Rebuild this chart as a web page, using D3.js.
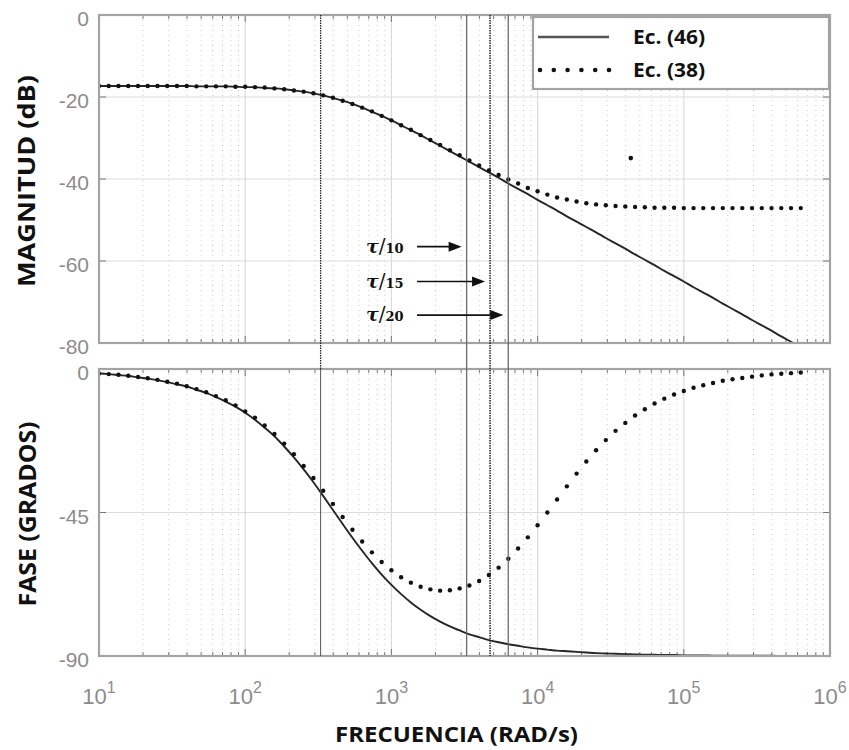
<!DOCTYPE html>
<html>
<head>
<meta charset="utf-8">
<script src="https://cdn.jsdelivr.net/npm/d3@7/dist/d3.min.js"></script>
<style>
  html, body { margin: 0; padding: 0; background: #ffffff; }
  svg { display: block; }
</style>
</head>
<body>
<div id="chart"></div>
<script>
// ---------------- DATA ----------------
const freq = [10, 11.66, 13.59, 15.85, 18.48, 21.54, 25.12, 29.29, 34.15, 39.81, 46.42, 54.12, 63.10, 73.56, 85.77,
  100, 116.6, 135.9, 158.5, 184.8, 215.4, 251.2, 292.9, 341.5, 398.1, 464.2, 541.2, 631.0, 735.6, 857.7,
  1000, 1166, 1359, 1585, 1848, 2154, 2512, 2929, 3415, 3981, 4642, 5412, 6310, 7356, 8577,
  10000, 11660, 13590, 15850, 18480, 21540, 25120, 29290, 34150, 39810, 46420, 54120, 63100, 73560, 85770,
  100000, 116600, 135900, 158500, 184800, 215400, 251200, 292900, 341500, 398100, 464200, 541200, 631000, 735600, 857700, 1000000];

// Ec. (46) magnitude (dB) - solid line
const magEc46 = [-17.3, -17.3, -17.3, -17.3, -17.3, -17.3, -17.3, -17.3, -17.3, -17.3, -17.4, -17.4, -17.4, -17.4, -17.5,
  -17.6, -17.6, -17.8, -17.9, -18.1, -18.4, -18.7, -19.1, -19.6, -20.2, -20.9, -21.7, -22.6, -23.6, -24.6,
  -25.7, -26.9, -28.1, -29.3, -30.6, -31.9, -33.2, -34.5, -35.8, -37.1, -38.4, -39.7, -41.1, -42.4, -43.7,
  -45.1, -46.4, -47.7, -49.1, -50.4, -51.7, -53.0, -54.4, -55.7, -57.0, -58.4, -59.7, -61.0, -62.4, -63.7,
  -65.0, -66.4, -67.7, -69.0, -70.4, -71.7, -73.0, -74.4, -75.7, -77.0, -78.4, -79.7, -81.0, -82.4, -83.7, -85.0];

// Ec. (38) magnitude (dB) - dotted markers (first 73 frequencies)
const magEc38 = [-17.3, -17.3, -17.3, -17.3, -17.3, -17.3, -17.3, -17.3, -17.3, -17.3, -17.4, -17.4, -17.4, -17.4, -17.5,
  -17.5, -17.6, -17.7, -17.9, -18.1, -18.4, -18.7, -19.1, -19.6, -20.2, -20.9, -21.7, -22.6, -23.5, -24.6,
  -25.7, -26.9, -28.0, -29.3, -30.5, -31.7, -33.0, -34.2, -35.5, -36.7, -37.9, -39.0, -40.1, -41.1, -42.2,
  -43.0, -43.8, -44.5, -45.0, -45.5, -45.9, -46.2, -46.4, -46.6, -46.7, -46.8, -46.9, -47.0, -47.0, -47.0,
  -47.1, -47.1, -47.1, -47.1, -47.1, -47.1, -47.1, -47.1, -47.1, -47.1, -47.1, -47.1, -47.1];

// isolated stray marker of Ec. (38) in the magnitude panel
const strayFreq = [43400];
const strayMag = [-34.9];

// Ec. (46) phase (degrees) - solid line
const phaseEc46 = [-1.4, -1.6, -1.9, -2.2, -2.6, -3.0, -3.5, -4.1, -4.8, -5.5, -6.5, -7.5, -8.8, -10.2, -11.8,
  -13.7, -15.9, -18.4, -21.1, -24.3, -27.7, -31.5, -35.5, -39.8, -44.2, -48.6, -52.9, -57.0, -60.9, -64.5,
  -67.7, -70.6, -73.2, -75.5, -77.5, -79.2, -80.7, -82.0, -83.2, -84.1, -85.0, -85.7, -86.3, -86.8, -87.3,
  -87.7, -88.0, -88.3, -88.5, -88.7, -88.9, -89.1, -89.2, -89.3, -89.4, -89.5, -89.6, -89.6, -89.7, -89.7,
  -89.8, -89.8, -89.8, -89.9, -89.9, -89.9, -89.9, -89.9, -89.9, -89.9, -90.0, -90.0, -90.0, -90.0, -90.0, -90.0];

// Ec. (38) phase (degrees) - dotted markers (first 73 frequencies)
const phaseEc38 = [-1.4, -1.6, -1.8, -2.1, -2.5, -2.9, -3.4, -4.0, -4.6, -5.4, -6.3, -7.3, -8.5, -9.8, -11.4,
  -13.3, -15.3, -17.7, -20.4, -23.4, -26.7, -30.4, -34.2, -38.2, -42.3, -46.4, -50.4, -54.1, -57.5, -60.5,
  -63.1, -65.3, -67.0, -68.3, -69.1, -69.5, -69.4, -68.8, -67.9, -66.5, -64.6, -62.3, -59.5, -56.3, -52.8,
  -49.0, -45.0, -40.9, -36.8, -32.8, -29.0, -25.5, -22.3, -19.4, -16.9, -14.6, -12.6, -10.8, -9.3, -8.0,
  -6.9, -5.9, -5.1, -4.4, -3.7, -3.2, -2.8, -2.4, -2.0, -1.7, -1.5, -1.3, -1.1];

// axis ticks
const decadeTicks = [10, 100, 1000, 10000, 100000, 1000000];
const decadeExp = ["1", "2", "3", "4", "5", "6"];
const magTicks = [0, -20, -40, -60, -80];
const phaseTicks = [0, -45, -90];

// vertical reference lines (rad/s) and tau annotations
const markerFreqs = [328, 3270, 4730, 6300];
const tauDivisors = ["10", "15", "20"];   // tau/10, tau/15, tau/20 point to markerFreqs[1..3]

const legendLabels = ["Ec. (46)", "Ec. (38)"];
const axisTitles = { mag: "MAGNITUD (dB)", phase: "FASE (GRADOS)", x: "FRECUENCIA (RAD/s)" };

// ---------------- CHART ----------------
const W = 849, H = 750;
const svg = d3.select("#chart").append("svg").attr("width", W).attr("height", H);
svg.append("rect").attr("width", W).attr("height", H).attr("fill", "#fff");

const x = d3.scaleLog().domain([10, 1e6]).range([99, 830]);
const yM = d3.scaleLinear().domain([0, -80]).range([15, 343]);
const yP = d3.scaleLinear().domain([0, -90]).range([369, 656]);

const minorFreqs = [];
for (let e = 1; e <= 5; e++) for (let m = 2; m <= 9; m++) minorFreqs.push(m * Math.pow(10, e));

const tickFont = "'Liberation Sans', Arial, sans-serif";
const titleFont = "'Open Sans', 'Noto Sans', sans-serif";

const panels = [
  { id: "mag", y: yM, ticks: magTicks, curve: magEc46, dots: magEc38 },
  { id: "phase", y: yP, ticks: phaseTicks, curve: phaseEc46, dots: phaseEc38 }
];

const [xl, xr] = x.range();

panels.forEach(p => {
  const [yt, yb] = p.y.range();
  const g = svg.append("g");
  g.append("rect").attr("x", xl).attr("y", yt).attr("width", xr - xl).attr("height", yb - yt).attr("fill", "#fff");

  // minor dotted grid
  g.selectAll(".mg").data(minorFreqs).enter().append("line")
    .attr("x1", d => x(d)).attr("x2", d => x(d)).attr("y1", yt).attr("y2", yb)
    .attr("stroke", "#cbcbcb").attr("stroke-width", 1).attr("stroke-dasharray", "1,4");

  // major grid
  g.selectAll(".vg").data(decadeTicks.slice(1, -1)).enter().append("line")
    .attr("x1", d => x(d)).attr("x2", d => x(d)).attr("y1", yt).attr("y2", yb)
    .attr("stroke", "#dcdcdc").attr("stroke-width", 1.2);
  g.selectAll(".hg").data(p.ticks.slice(1, -1)).enter().append("line")
    .attr("x1", xl).attr("x2", xr).attr("y1", d => p.y(d)).attr("y2", d => p.y(d))
    .attr("stroke", "#dcdcdc").attr("stroke-width", 1.2);

  // tick marks (inside) on top and bottom edges
  [yt, yb].forEach((edge, i) => {
    const dir = i === 0 ? 1 : -1;
    g.selectAll(".tmn" + i).data(minorFreqs).enter().append("line")
      .attr("x1", d => x(d)).attr("x2", d => x(d)).attr("y1", edge).attr("y2", edge + dir * 4)
      .attr("stroke", "#777").attr("stroke-width", 1);
    g.selectAll(".tmj" + i).data(decadeTicks).enter().append("line")
      .attr("x1", d => x(d)).attr("x2", d => x(d)).attr("y1", edge).attr("y2", edge + dir * 7)
      .attr("stroke", "#777").attr("stroke-width", 1);
  });
  [xl, xr].forEach((edge, i) => {
    const dir = i === 0 ? 1 : -1;
    g.selectAll(".ty" + i).data(p.ticks).enter().append("line")
      .attr("x1", edge).attr("x2", edge + dir * 7).attr("y1", d => p.y(d)).attr("y2", d => p.y(d))
      .attr("stroke", "#777").attr("stroke-width", 1);
  });

  // clip
  svg.append("clipPath").attr("id", "clip-" + p.id).append("rect")
    .attr("x", xl).attr("y", yt).attr("width", xr - xl).attr("height", yb - yt);
  const pg = svg.append("g").attr("clip-path", "url(#clip-" + p.id + ")");

  const line = d3.line().x(d => x(d[0])).y(d => p.y(d[1])).curve(d3.curveMonotoneX);
  pg.append("path").datum(freq.map((f, i) => [f, p.curve[i]]))
    .attr("d", line).attr("fill", "none").attr("stroke", "#262626").attr("stroke-width", 1.9);

  pg.selectAll(".dot").data(p.dots.map((v, i) => [freq[i], v])).enter().append("circle")
    .attr("cx", d => x(d[0])).attr("cy", d => p.y(d[1])).attr("r", 2.2).attr("fill", "#111");

  if (p.id === "mag") {
    pg.selectAll(".stray").data(strayFreq.map((f, i) => [f, strayMag[i]])).enter().append("circle")
      .attr("cx", d => x(d[0])).attr("cy", d => p.y(d[1])).attr("r", 2.3).attr("fill", "#111");
  }

  // frame
  svg.append("rect").attr("x", xl).attr("y", yt).attr("width", xr - xl).attr("height", yb - yt)
    .attr("fill", "none").attr("stroke", "#a3a3a3").attr("stroke-width", 2.2);

  // y tick labels
  svg.selectAll(".yl-" + p.id).data(p.ticks).enter().append("text")
    .attr("x", xl - 10).attr("y", d => p.y(d) + 11)
    .attr("text-anchor", "end").attr("font-family", tickFont).attr("font-size", 21)
    .attr("fill", "#8c8c8c").text(d => d === 0 ? "0" : "-" + Math.abs(d));
});

// x tick labels (10^n)
const xl_g = svg.selectAll(".xlab").data(decadeTicks).enter().append("text")
  .attr("x", d => x(d)).attr("y", 704).attr("text-anchor", "middle")
  .attr("font-family", tickFont).attr("font-size", 22).attr("fill", "#8c8c8c");
xl_g.append("tspan").text("10");
xl_g.append("tspan").attr("dy", -11).attr("font-size", 16).text((d, i) => decadeExp[i]);

// vertical reference lines
const yTop = yM.range()[0], yGap = yP.range()[0], yBot = yP.range()[1];
const markerStyles = [
  { segs: [[yTop, yGap, "#222", "1.5,1", 1.3], [yGap, yBot, "#555", null, 1]] },
  { segs: [[yTop, yBot, "#6a6a6a", null, 1.3]] },
  { segs: [[yTop, yBot, "#222", "1.5,1", 1.5]] },
  { segs: [[yTop, yBot, "#6a6a6a", null, 1.3]] }
];
markerFreqs.forEach((f, i) => {
  markerStyles[i].segs.forEach(s => {
    const l = svg.append("line").attr("x1", x(f)).attr("x2", x(f)).attr("y1", s[0]).attr("y2", s[1])
      .attr("stroke", s[2]).attr("stroke-width", s[4]);
    if (s[3]) l.attr("stroke-dasharray", s[3]);
  });
});

// tau annotations with arrows
const tauY = [yM(-56.5), yM(-65), yM(-73.2)];
tauDivisors.forEach((d, i) => {
  const cy = tauY[i];
  const t = svg.append("text").attr("x", 366).attr("y", cy + 6)
    .attr("font-family", "'DejaVu Serif', 'Liberation Serif', serif").attr("font-weight", "bold").attr("fill", "#111");
  t.append("tspan").attr("font-size", 19).attr("font-style", "italic").text("τ");
  t.append("tspan").attr("font-size", 20).attr("font-weight", "normal").text("/");
  t.append("tspan").attr("font-size", 13).text(d);
  const tip = x(markerFreqs[i + 1]) - 5;
  svg.append("line").attr("x1", 417).attr("x2", tip - 10).attr("y1", cy).attr("y2", cy)
    .attr("stroke", "#111").attr("stroke-width", 1.6);
  svg.append("path").attr("d", `M${tip},${cy} L${tip - 13},${cy - 5} L${tip - 13},${cy + 5} Z`).attr("fill", "#111");
});

// legend
const lg = svg.append("g");
lg.append("rect").attr("x", 533).attr("y", 17).attr("width", 296).attr("height", 72)
  .attr("fill", "#fff").attr("stroke", "#a3a3a3").attr("stroke-width", 2.2);
lg.append("line").attr("x1", 538).attr("x2", 609).attr("y1", 37).attr("y2", 37)
  .attr("stroke", "#555").attr("stroke-width", 2.4);
lg.selectAll(".ldot").data([0, 1, 2, 3, 4, 5]).enter().append("circle")
  .attr("cx", d => 540 + d * 13.8).attr("cy", 70).attr("r", 2.3).attr("fill", "#111");
lg.selectAll(".ltxt").data(legendLabels).enter().append("text")
  .attr("x", 633).attr("y", (d, i) => (i === 0 ? 37 : 70) + 7)
  .attr("font-family", titleFont).attr("font-weight", "bold").attr("font-size", 20).attr("fill", "#111")
  .attr("textLength", 72).attr("lengthAdjust", "spacingAndGlyphs")
  .text(d => d);

// axis titles
svg.append("text").attr("transform", "translate(35,181) rotate(-90)")
  .attr("text-anchor", "middle").attr("font-family", titleFont).attr("font-weight", "bold")
  .attr("font-size", 23).attr("fill", "#111").attr("textLength", 212).attr("lengthAdjust", "spacingAndGlyphs")
  .text(axisTitles.mag);
svg.append("text").attr("transform", "translate(36,514) rotate(-90)")
  .attr("text-anchor", "middle").attr("font-family", titleFont).attr("font-weight", "bold")
  .attr("font-size", 23).attr("fill", "#111").attr("textLength", 185).attr("lengthAdjust", "spacingAndGlyphs")
  .text(axisTitles.phase);
svg.append("text").attr("x", 456.5).attr("y", 742)
  .attr("text-anchor", "middle").attr("font-family", titleFont).attr("font-weight", "bold")
  .attr("font-size", 22).attr("fill", "#111").attr("textLength", 243).attr("lengthAdjust", "spacingAndGlyphs")
  .text(axisTitles.x);
</script>
</body>
</html>
